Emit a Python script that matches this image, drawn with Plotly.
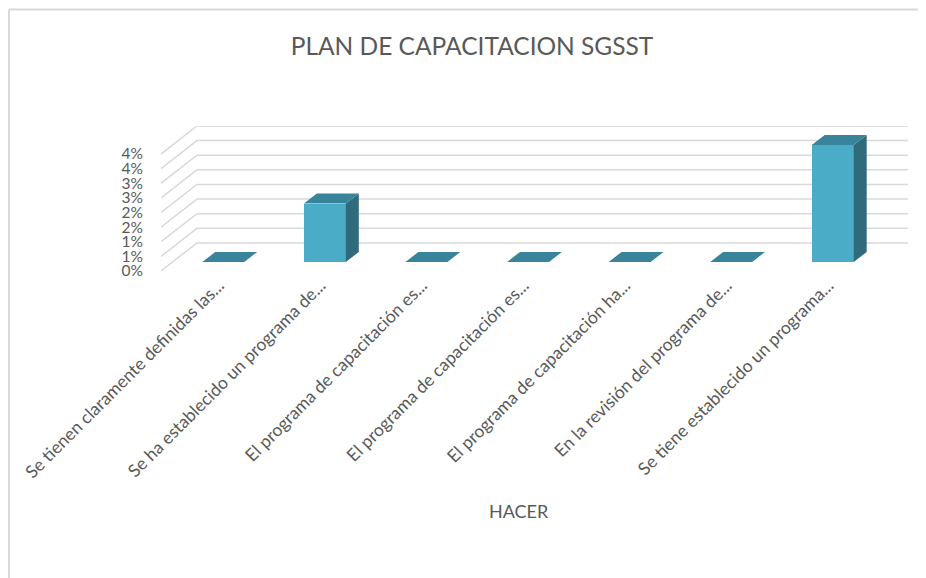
import plotly.graph_objects as go

# ---------------- data ----------------
categories = [
    "Se tienen claramente definidas las...",
    "Se ha establecido un programa de...",
    "El programa de capacitación es...",
    "El programa de capacitación es...",
    "El programa de capacitación ha...",
    "En la revisión del programa de...",
    "Se tiene establecido un programa...",
]
values = [0, 2, 0, 0, 0, 0, 4]          # percent
y_tickvals = [0, 0.5, 1, 1.5, 2, 2.5, 3, 3.5, 4]
y_ticktext = ["0%", "1%", "1%", "2%", "2%", "3%", "3%", "4%", "4%"]
title_text = "PLAN DE CAPACITACION SGSST"
x_title = "HACER"

# ---------------- geometry / style ----------------
PAGE_OFF = 8                 # default body margin of the html page
PW, PH = 926, 578            # window size
W, H = PW - PAGE_OFF, PH - PAGE_OFF
# plot area in window pixels
PL, PT, PR, PB = 161, 126, 908, 271
L, T = PL - PAGE_OFF, PT - PAGE_OFF
R, B = W - (PR - PAGE_OFF), H - (PB - PAGE_OFF)

DX, DY = 0.354, 0.96        # depth vector of the 3D box (data units)
D1, D2 = 0.32, 0.68         # bar depth span (fraction of box depth)
BW = 0.413                  # bar width (category units)
TICK_OFF = 0.07             # x tick label anchor offset (category units)
n = len(categories)
x_range = [-0.5, n - 0.5 + DX]
y_range = [0, max(y_tickvals) + DY]

FRONT = "#4aacc6"
TOP = "#39849a"
SIDE = "#2f6b7b"
GRID = "#d9d9d9"
TXT = "#595959"
FONT = "Lato, Carlito, 'Open Sans', sans-serif"

pw, ph = W - L - R, H - T - B
def px(xp):      # window pixel x -> paper
    return (xp - PAGE_OFF - L) / pw
def py(yp):      # window pixel y -> paper
    return (H - B - (yp - PAGE_OFF)) / ph

fig = go.Figure()

# front faces
xs_front = [i + D1 * DX for i in range(n)]
base = D1 * DY
fig.add_trace(go.Bar(
    x=xs_front, y=values, base=[base] * n, width=[BW] * n,
    marker=dict(color=FRONT, line=dict(width=0)),
    hoverinfo="skip", showlegend=False,
))

# top and side faces
ddx, ddy = (D2 - D1) * DX, (D2 - D1) * DY
top_x, top_y, side_x, side_y = [], [], [], []
for xc, v in zip(xs_front, values):
    xl, xr = xc - BW / 2, xc + BW / 2
    yt = base + v
    top_x += [xl, xr, xr + ddx, xl + ddx, xl, None]
    top_y += [yt, yt, yt + ddy, yt + ddy, yt, None]
    if v > 0:
        side_x += [xr, xr, xr + ddx, xr + ddx, xr, None]
        side_y += [base, yt, yt + ddy, base + ddy, base, None]

fig.add_trace(go.Scatter(x=side_x, y=side_y, mode="lines", fill="toself",
                         fillcolor=SIDE, line=dict(width=0, color=SIDE),
                         hoverinfo="skip", showlegend=False))
fig.add_trace(go.Scatter(x=top_x, y=top_y, mode="lines", fill="toself",
                         fillcolor=TOP, line=dict(width=0, color=TOP),
                         hoverinfo="skip", showlegend=False))

# wall gridlines (side wall diagonal + back wall horizontal)
shapes = []
for v in y_tickvals:
    x0, x1, x2 = -0.5, -0.5 + DX, n - 0.5 + DX
    path = f"M {x0},{v} L {x1},{v + DY} L {x2},{v + DY}"
    shapes.append(dict(type="path", path=path, xref="x", yref="y",
                       line=dict(color=GRID, width=1.5), layer="below"))

# chart border (top and left)
shapes.append(dict(type="line", xref="paper", yref="paper",
                   x0=px(9), y0=py(9.5), x1=px(PW + 10), y1=py(9.5),
                   line=dict(color=GRID, width=2)))
shapes.append(dict(type="line", xref="paper", yref="paper",
                   x0=px(9), y0=py(9.5), x1=px(9), y1=py(PH + 10),
                   line=dict(color=GRID, width=2)))

fig.update_layout(
    width=W, height=H,
    margin=dict(l=L, r=R, t=T, b=B, autoexpand=False),
    paper_bgcolor="white", plot_bgcolor="white",
    font=dict(family=FONT, color=TXT),
    title=dict(text=title_text, x=(472 - PAGE_OFF) / W,
               y=1 - (46 - PAGE_OFF) / H,
               xanchor="center", yanchor="middle",
               font=dict(size=24.5, color=TXT, family=FONT)),
    xaxis=dict(range=x_range, tickmode="array",
               tickvals=[i + TICK_OFF for i in range(n)], ticktext=categories,
               tickangle=-45, showgrid=False, zeroline=False, showline=False,
               ticks="", tickfont=dict(size=17.5, color=TXT, family=FONT),
               fixedrange=True),
    yaxis=dict(range=y_range, tickmode="array", tickvals=y_tickvals,
               ticktext=y_ticktext, showgrid=False, zeroline=False,
               showline=False, ticks="", ticklabelstandoff=17,
               tickfont=dict(size=15.5, color=TXT, family=FONT), fixedrange=True),
    shapes=shapes,
    annotations=[dict(text=x_title, xref="paper", yref="paper",
                      x=px(519), y=py(511), xanchor="center", yanchor="middle",
                      showarrow=False, font=dict(size=18, color=TXT, family=FONT))],
    bargap=0,
)

fig.write_html("out.html")
